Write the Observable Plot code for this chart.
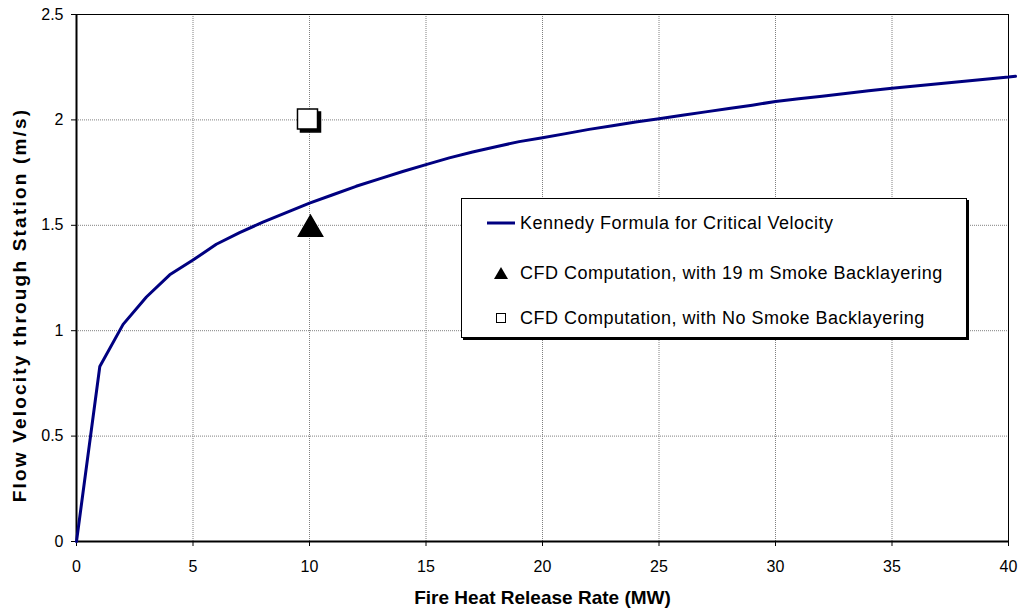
<!DOCTYPE html>
<html>
<head>
<meta charset="utf-8">
<script src="https://cdn.jsdelivr.net/npm/d3@7"></script>
<script src="https://cdn.jsdelivr.net/npm/@observablehq/plot@0.6"></script>
<style>
  html, body { margin: 0; padding: 0; background: white; }
  #wrap { position: relative; width: 1019px; height: 611px; font-family: "Liberation Sans", Arial, sans-serif; }
  #legend { position: absolute; left: 461px; top: 198px; width: 504px; height: 138px; border: 1px solid #000; background: #fff; box-shadow: 2px 2px 0 #000; }
  .row { position: absolute; left: 0; height: 22px; line-height: 22px; font-size: 18px; letter-spacing: 0.5px; color: #000; white-space: nowrap; }
  .row svg { position: absolute; left: 24px; top: 0; }
  .row span { position: absolute; left: 58px; top: 0; }
</style>
</head>
<body>
<div id="wrap"></div>
<script>
// Fire heat release rate (MW) and Kennedy critical velocity (m/s)
const heatMW = [0, 1, 2, 3, 4, 5, 6, 7, 8, 9, 10, 11, 12, 13, 14, 15, 16, 17, 18, 19, 20,
  21, 22, 23, 24, 25, 26, 27, 28, 29, 30, 31, 32, 33, 34, 35, 36, 37, 38, 39, 40, 40.3];
const kennedyVelocity = [0, 0.83, 1.03, 1.16, 1.265, 1.335, 1.41, 1.465, 1.515, 1.56, 1.605,
  1.645, 1.685, 1.72, 1.755, 1.788, 1.82, 1.848, 1.873, 1.897, 1.915,
  1.935, 1.955, 1.972, 1.99, 2.005, 2.022, 2.038, 2.054, 2.07, 2.087,
  2.1, 2.112, 2.125, 2.138, 2.15, 2.161, 2.172, 2.182, 2.193, 2.203, 2.207];

// CFD computations
const cfdBackHeat = [10];
const cfdBackVelocity = [1.5];
const cfdNoBackHeat = [10];
const cfdNoBackVelocity = [2.0];

const xTicks = [0, 5, 10, 15, 20, 25, 30, 35, 40];
const yTicks = [0, 0.5, 1, 1.5, 2, 2.5];

const xTitle = "Fire Heat Release Rate (MW)";
const yTitle = "Flow Velocity through Station (m/s)";
const legendLabels = [
  "Kennedy Formula for Critical Velocity",
  "CFD Computation, with 19 m Smoke Backlayering",
  "CFD Computation, with No Smoke Backlayering"
];

const curve = heatMW.map((x, i) => ({x, y: kennedyVelocity[i]}));
const tri = cfdBackHeat.map((x, i) => ({x, y: cfdBackVelocity[i]}));
const sq = cfdNoBackHeat.map((x, i) => ({x, y: cfdNoBackVelocity[i]}));

const fmt = d => String(d);
const grid = {stroke: "#808080", strokeOpacity: 1, strokeDasharray: "1,1", strokeWidth: 1};

const chart = Plot.plot({
  width: 1019,
  height: 611,
  marginLeft: 76,
  marginRight: 11,
  marginTop: 14,
  marginBottom: 70,
  style: {fontFamily: "'Liberation Sans', Arial, sans-serif", fontSize: "16px", background: "white", color: "black", overflow: "visible"},
  x: {domain: [0, 40]},
  y: {domain: [0, 2.5]},
  marks: [
    Plot.gridX(xTicks, grid),
    Plot.gridY(yTicks, grid),
    Plot.frame({stroke: "black", strokeWidth: 1}),
    Plot.axisX(xTicks, {tickSize: 5, tickPadding: 14, fontSize: 16, label: null, tickFormat: fmt}),
    Plot.axisY(yTicks, {tickSize: 5, tickPadding: 8, fontSize: 16, label: null, tickFormat: fmt}),
    Plot.ruleX([0], {stroke: "black", strokeWidth: 2}),
    Plot.ruleY([0], {stroke: "black", strokeWidth: 2}),
    Plot.line(curve, {x: "x", y: "y", stroke: "#000080", strokeWidth: 3, clip: false}),
    Plot.dot(sq, {x: "x", y: "y", symbol: "square", r: 11.3, fill: "black", stroke: "black", dx: 1, dy: 2}),
    Plot.dot(sq, {x: "x", y: "y", symbol: "square", r: 11.3, fill: "white", stroke: "black", strokeWidth: 1.5, dx: -2, dy: -1}),
    Plot.dot(tri, {x: "x", y: "y", symbol: "triangle", r: 9, fill: "black", stroke: "black", dx: 1, dy: 4}),
    Plot.text([xTitle], {frameAnchor: "bottom", textAnchor: "middle", dy: 62, fontWeight: "bold", fontSize: 19}),
    Plot.text([yTitle], {frameAnchor: "left", textAnchor: "middle", rotate: -90, dx: -57, dy: 27, fontWeight: "bold", fontSize: 19})
  ]
});

d3.select(chart).selectAll("text").each(function() {
  if (this.textContent === yTitle) {
    d3.select(this).style("letter-spacing", "2.2px");
  }
});

const wrap = document.getElementById("wrap");
wrap.appendChild(chart);

// Legend
const legend = document.createElement("div");
legend.id = "legend";
const rowTops = [13, 63, 108];
const symbols = [
  '<svg width="30" height="22"><line x1="1" x2="29" y1="11" y2="11" stroke="#000080" stroke-width="3"/></svg>',
  '<svg width="30" height="22"><path d="M8,17 L15,5 L22,17 Z" fill="black"/></svg>',
  '<svg width="30" height="22"><rect x="10.5" y="6.5" width="9" height="9" fill="white" stroke="black" stroke-width="1"/></svg>'
];
legendLabels.forEach((label, i) => {
  const row = document.createElement("div");
  row.className = "row";
  row.style.top = rowTops[i] + "px";
  row.innerHTML = symbols[i] + "<span></span>";
  row.querySelector("span").textContent = label;
  legend.appendChild(row);
});
wrap.appendChild(legend);
</script>
</body>
</html>
